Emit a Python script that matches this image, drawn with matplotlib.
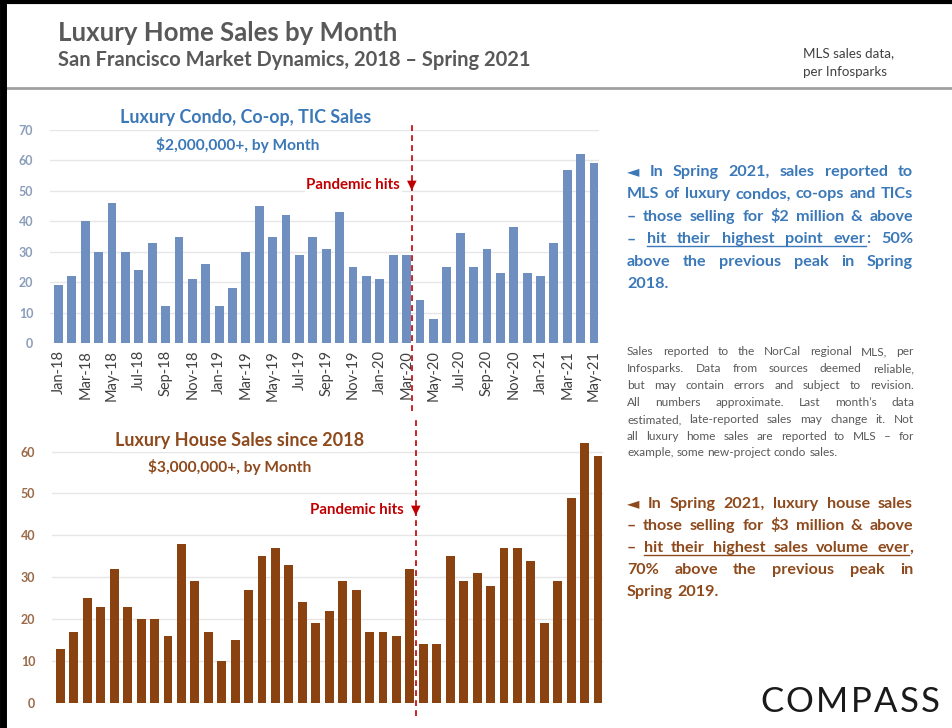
import matplotlib
matplotlib.use('Agg')
import matplotlib.pyplot as plt
from matplotlib.lines import Line2D

plt.rcParams['font.family'] = ['Lato', 'DejaVu Sans']

months = ['Jan-18', 'Feb-18', 'Mar-18', 'Apr-18', 'May-18', 'Jun-18', 'Jul-18', 'Aug-18',
          'Sep-18', 'Oct-18', 'Nov-18', 'Dec-18',
          'Jan-19', 'Feb-19', 'Mar-19', 'Apr-19', 'May-19', 'Jun-19', 'Jul-19', 'Aug-19',
          'Sep-19', 'Oct-19', 'Nov-19', 'Dec-19',
          'Jan-20', 'Feb-20', 'Mar-20', 'Apr-20', 'May-20', 'Jun-20', 'Jul-20', 'Aug-20',
          'Sep-20', 'Oct-20', 'Nov-20', 'Dec-20',
          'Jan-21', 'Feb-21', 'Mar-21', 'Apr-21', 'May-21']

condo_sales = [19, 22, 40, 30, 46, 30, 24, 33, 12, 35, 21, 26,
               12, 18, 30, 45, 35, 42, 29, 35, 31, 43, 25, 22,
               21, 29, 29, 14, 8, 25, 36, 25, 31, 23, 38, 23,
               22, 33, 57, 62, 59]

house_sales = [13, 17, 25, 23, 32, 23, 20, 20, 16, 38, 29, 17,
               10, 15, 27, 35, 37, 33, 24, 19, 22, 29, 27, 17,
               17, 16, 32, 14, 14, 35, 29, 31, 28, 37, 37, 34,
               19, 29, 49, 62, 59]

condo_yticks = [0, 10, 20, 30, 40, 50, 60, 70]
house_yticks = [0, 10, 20, 30, 40, 50, 60]
pandemic_month = 'Mar-20'

W, H = 952, 728
fig = plt.figure(figsize=(W / 100, H / 100), dpi=100)
fig.patch.set_facecolor('white')
renderer = fig.canvas.get_renderer()


def fx(px):
    return px / W


def fy(py):
    return 1 - py / H


def add_axes_px(l, t, r, b):
    return fig.add_axes([fx(l), fy(b), (r - l) / W, (b - t) / H])


BLUE_BAR = '#6E8FBF'
BROWN_BAR = '#8A4211'
BLUE_TXT = '#3B78B8'
BROWN_TXT = '#8E4A1C'
RED = '#C00000'
GRAY_TXT = '#595959'


def draw_chart(ax, values, color, ymax, yticks, tick_color, show_x):
    x = list(range(len(values)))
    ax.bar(x, values, width=0.66, color=color, zorder=2)
    ax.set_xlim(-0.63, len(values) - 0.63)
    ax.set_ylim(0, ymax)
    ax.set_yticks(yticks)
    ax.yaxis.grid(True, color='#E6E6E6', lw=1, zorder=0)
    ax.set_axisbelow(True)
    for s in ax.spines.values():
        s.set_visible(False)
    ax.tick_params(axis='y', length=0, pad=12, labelsize=9, labelcolor=tick_color)
    for lab in ax.get_yticklabels():
        lab.set_fontweight('bold')
    if show_x:
        ax.set_xticks(x[::2])
        ax.set_xticklabels(months[::2], rotation=90, fontsize=10.5, color='#404040')
        ax.tick_params(axis='x', length=0, pad=5)
    else:
        ax.set_xticks([])


# ---- top chart (condos)
ax1 = add_axes_px(50, 130, 599, 343)
draw_chart(ax1, condo_sales, BLUE_BAR, 70, condo_yticks, '#8A9DBA', True)
ax1.text(14.0, 74, 'Luxury Condo, Co-op, TIC Sales', ha='center', va='center',
         fontsize=12.9, fontweight='bold', color=BLUE_TXT,
         bbox=dict(facecolor='white', edgecolor='none', pad=2), zorder=5, clip_on=False)
ax1.text(13.4, 65, '$2,000,000+, by Month', ha='center', va='center',
         fontsize=11.2, fontweight='bold', color=BLUE_TXT,
         bbox=dict(facecolor='white', edgecolor='none', pad=2), zorder=5)

# ---- bottom chart (houses)
ax2 = add_axes_px(52, 439, 603, 703)
draw_chart(ax2, house_sales, BROWN_BAR, 63, house_yticks, '#9A6A48', False)
ax2.text(13.3, 62.6, 'Luxury House Sales since 2018', ha='center', va='center',
         fontsize=13, fontweight='bold', color=BROWN_TXT,
         bbox=dict(facecolor='white', edgecolor='none', pad=2), zorder=5, clip_on=False)
ax2.text(12.6, 56.4, '$3,000,000+, by Month', ha='center', va='center',
         fontsize=11.2, fontweight='bold', color=BROWN_TXT,
         bbox=dict(facecolor='white', edgecolor='none', pad=2), zorder=5)

# ---- pandemic markers
pidx = months.index(pandemic_month) + 0.42
for ax, y0, y1, ytxt in [(ax1, -0.32, 1.04, 52), (ax2, -0.05, 1.08, 46)]:
    ax.plot([pidx, pidx], [y0, y1], transform=ax.get_xaxis_transform(),
            color=RED, lw=1.2, ls=(0, (3.5, 2.5)), clip_on=False, zorder=6)
    ax.text(pidx - 0.9, ytxt, 'Pandemic hits', ha='right', va='center',
            fontsize=10.8, fontweight='bold', color=RED, zorder=7,
            bbox=dict(facecolor='white', edgecolor='none', pad=1))
    ax.text(pidx, ytxt, '\u25BC', ha='center', va='center',
            fontsize=9, color=RED, zorder=7, family=['DejaVu Sans'])


# ---- header
fig.text(fx(58), fy(33), 'Luxury Home Sales by Month', ha='left', va='center',
         fontsize=18.5, color=GRAY_TXT, fontweight='bold')
fig.text(fx(58), fy(60), 'San Francisco Market Dynamics, 2018 \u2013 Spring 2021',
         ha='left', va='center', fontsize=14.5, color=GRAY_TXT, fontweight='bold')
fig.text(fx(803), fy(53), 'MLS sales data,', ha='left', va='center', fontsize=9.6, color='#404040')
fig.text(fx(803), fy(72), 'per Infosparks', ha='left', va='center', fontsize=9.6, color='#404040')

fig.add_artist(Line2D([0, 1], [fy(88), fy(88)], transform=fig.transFigure,
                      color='#A0A0A0', lw=2))
fig.add_artist(Line2D([0, 1], [fy(1.5), fy(1.5)], transform=fig.transFigure,
                      color='black', lw=3))
fig.add_artist(Line2D([fx(2.5), fx(2.5)], [0, 1], transform=fig.transFigure,
                      color='black', lw=5))


# ---- justified text helper
def measure(s, **kw):
    t = fig.text(0, 0, s, **kw)
    w = t.get_window_extent(renderer).width
    t.remove()
    return w


def parse_line(line):
    tokens = []
    ul = False
    for word in line.split(' '):
        if word == '':
            continue
        parts = []
        buf = ''
        for ch in word:
            if ch == '[':
                if buf:
                    parts.append((buf, ul))
                    buf = ''
                ul = True
            elif ch == ']':
                if buf:
                    parts.append((buf, ul))
                    buf = ''
                ul = False
            else:
                buf += ch
        if buf:
            parts.append((buf, ul))
        tokens.append(parts)
    return tokens


def justified_block(lines, x0, x1, baselines, color, fontsize, weight='normal',
                    justify_last=False):
    kw = dict(fontsize=fontsize, fontweight=weight, color=color)
    space_w = measure('a a', **kw) - measure('aa', **kw)
    for i, (line, yb) in enumerate(zip(lines, baselines)):
        tokens = parse_line(line)
        widths = [[measure(p, **kw) for p, _ in tok] for tok in tokens]
        total = sum(sum(w) for w in widths)
        last = (i == len(lines) - 1) and not justify_last
        if len(tokens) > 1 and not last:
            gap = (x1 - x0 - total) / (len(tokens) - 1)
        else:
            gap = space_w
        x = x0
        run_start = None
        run_end = None
        for tok, ws in zip(tokens, widths):
            for (p, ul), w in zip(tok, ws):
                fig.text(fx(x), fy(yb), p, ha='left', va='baseline', **kw)
                if ul:
                    if run_start is None:
                        run_start = x
                    run_end = x + w
                elif run_start is not None:
                    fig.add_artist(Line2D([fx(run_start), fx(run_end)],
                                          [fy(yb + 2.5), fy(yb + 2.5)],
                                          transform=fig.transFigure, color=color, lw=1))
                    run_start = None
                x += w
            x += gap
        if run_start is not None:
            fig.add_artist(Line2D([fx(run_start), fx(run_end)],
                                  [fy(yb + 2.5), fy(yb + 2.5)],
                                  transform=fig.transFigure, color=color, lw=1))


blue_lines = [
    '\u25C4 In Spring 2021, sales reported to',
    'MLS of luxury condos, co-ops and TICs',
    '\u2013 those selling for $2 million & above',
    '\u2013 [hit their highest point ever]:  50%',
    'above the previous peak in Spring',
    '2018.',
]
justified_block(blue_lines, 627, 913, [176, 198.5, 221, 243.5, 266, 288.5],
                BLUE_TXT, 11.6, 'bold')

gray_lines = [
    'Sales reported to the NorCal regional MLS, per',
    'Infosparks. Data from sources deemed reliable,',
    'but may contain errors and subject to revision.',
    'All numbers approximate. Last month\u2019s data',
    'estimated, late-reported sales may change it. Not',
    'all luxury home sales are reported to MLS \u2013 for',
    'example, some new-project condo sales.',
]
justified_block(gray_lines, 627, 914, [355, 372, 389, 406, 423, 440, 456.5],
                GRAY_TXT, 8.6)

brown_lines = [
    '\u25C4 In Spring 2021, luxury house sales',
    '\u2013 those selling for $3 million & above',
    '\u2013 [hit their highest sales volume ever],',
    '70% above the previous peak in',
    'Spring 2019.',
]
justified_block(brown_lines, 627, 913, [508, 530, 552, 574, 596],
                BROWN_TXT, 11.6, 'bold')

# ---- logo
justified_block(['C O M P A S S'], 760, 940, [712], '#1A1A1A', 25, 'normal',
                justify_last=True)

fig.savefig('out.png', dpi=100, facecolor='white')
